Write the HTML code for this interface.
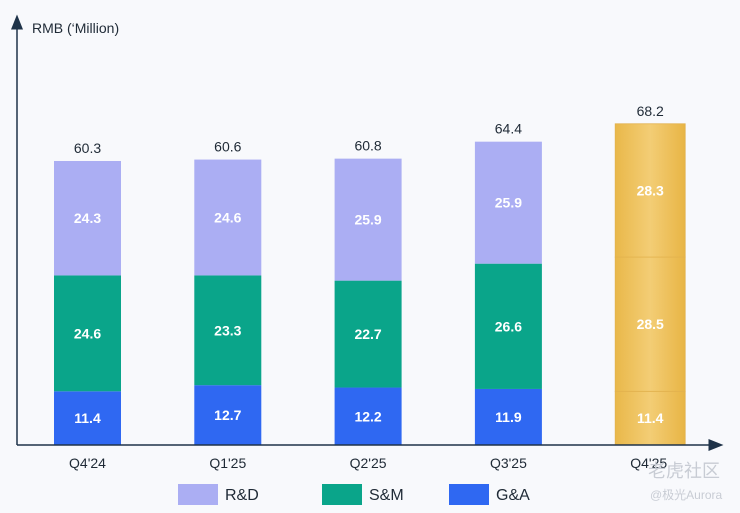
<!DOCTYPE html>
<html><head><meta charset="utf-8"><style>
html,body{margin:0;padding:0;background:#f8f9fc;}
svg{display:block;font-family:"Liberation Sans","Noto Sans CJK SC",sans-serif;}
</style></head><body>
<svg id="chart" width="740" height="513" viewBox="0 0 740 513">
<defs>
<linearGradient id="gold" x1="0" x2="1" y1="0" y2="0">
<stop offset="0" stop-color="#e9b84a"/><stop offset="0.5" stop-color="#f3cd75"/><stop offset="1" stop-color="#e8b545"/>
</linearGradient>
<marker id="arr" markerWidth="10" markerHeight="10" refX="5" refY="5" orient="auto"><path d="M0,1 L10,5 L0,9 Z" fill="#1f3349"/></marker>
</defs>
<rect width="740" height="513" fill="#f8f9fc"/>
<line x1="17" y1="445" x2="17" y2="22" stroke="#1f3349" stroke-width="1.5" marker-end="url(#arr)"/>
<text x="32" y="33" font-size="14" fill="#1f2a36">RMB (‘Million)</text>
<g id="bars"></g>
<line x1="17" y1="445" x2="716" y2="445" stroke="#1f3349" stroke-width="1.5" marker-end="url(#arr)"/>
<g id="xlabels"></g>
<g>
<rect x="178" y="484" width="40" height="21" fill="#abaef3"/>
<text x="225" y="500" font-size="16" fill="#1f2a36">R&amp;D</text>
<rect x="322" y="484" width="40" height="21" fill="#0aa58a"/>
<text x="369" y="500" font-size="16" fill="#1f2a36">S&amp;M</text>
<rect x="449" y="484" width="40" height="21" fill="#2f68f2"/>
<text x="496" y="500" font-size="16" fill="#1f2a36">G&amp;A</text>
</g>
<text x="648" y="477" font-size="18" fill="#c8ccd4">老虎社区</text>
<text x="650" y="499" font-size="12" fill="#c8ccd4">@极光Aurora</text>
</svg>
<script>
const categories = ["Q4'24","Q1'25","Q2'25","Q3'25","Q4'25"];
const gaValues = [11.4,12.7,12.2,11.9,11.4];
const smValues = [24.6,23.3,22.7,26.6,28.5];
const rdValues = [24.3,24.6,25.9,25.9,28.3];
const totals = [60.3,60.6,60.8,64.4,68.2];

const NS="http://www.w3.org/2000/svg";
const baseY=445, pxPerUnit=4.71, x0=54, step=140.3, bw=67;
function yScale(v){return baseY - v*pxPerUnit;}
function xScale(i){return x0 + i*step;}
const barsG=document.getElementById('bars');
const xl=document.getElementById('xlabels');
function mk(tag,attrs,parent){const e=document.createElementNS(NS,tag);for(const k in attrs)e.setAttribute(k,attrs[k]);parent.appendChild(e);return e;}
const colors={ga:"#2f68f2",sm:"#0aa58a",rd:"#abaef3"};
categories.forEach((c,i)=>{
  const x=xScale(i), last=i===categories.length-1;
  const segs=[["ga",gaValues[i]],["sm",smValues[i]],["rd",rdValues[i]]];
  let cum=0;
  segs.forEach(([k,v])=>{
    const y1=yScale(cum+v), y0=yScale(cum);
    const r=mk('rect',{x:x,y:y1,width:last?70:bw,height:y0-y1,fill:last?"url(#gold)":colors[k]},barsG);
    
    
    if(last){r.setAttribute('stroke','#e2b24e');r.setAttribute('stroke-width','0.8');}
    const t=mk('text',{x:x+(last?35:bw/2),y:(y1+y0)/2+5,'text-anchor':'middle','font-size':14,'font-weight':'bold',fill:'#ffffff'},barsG);
    t.textContent=v.toFixed(1);
    
    
    cum+=v;
  });
  const tt=mk('text',{x:x+(last?35:bw/2),y:yScale(totals[i])-8,'text-anchor':'middle','font-size':14,fill:'#1f2a36'},barsG);
  tt.textContent=totals[i].toFixed(1);
  
  
  const lt=mk('text',{x:x+bw/2,y:468,'text-anchor':'middle','font-size':14,fill:'#1f2a36'},xl);
  lt.textContent=c;
  
  
});
</script>
</body></html>
